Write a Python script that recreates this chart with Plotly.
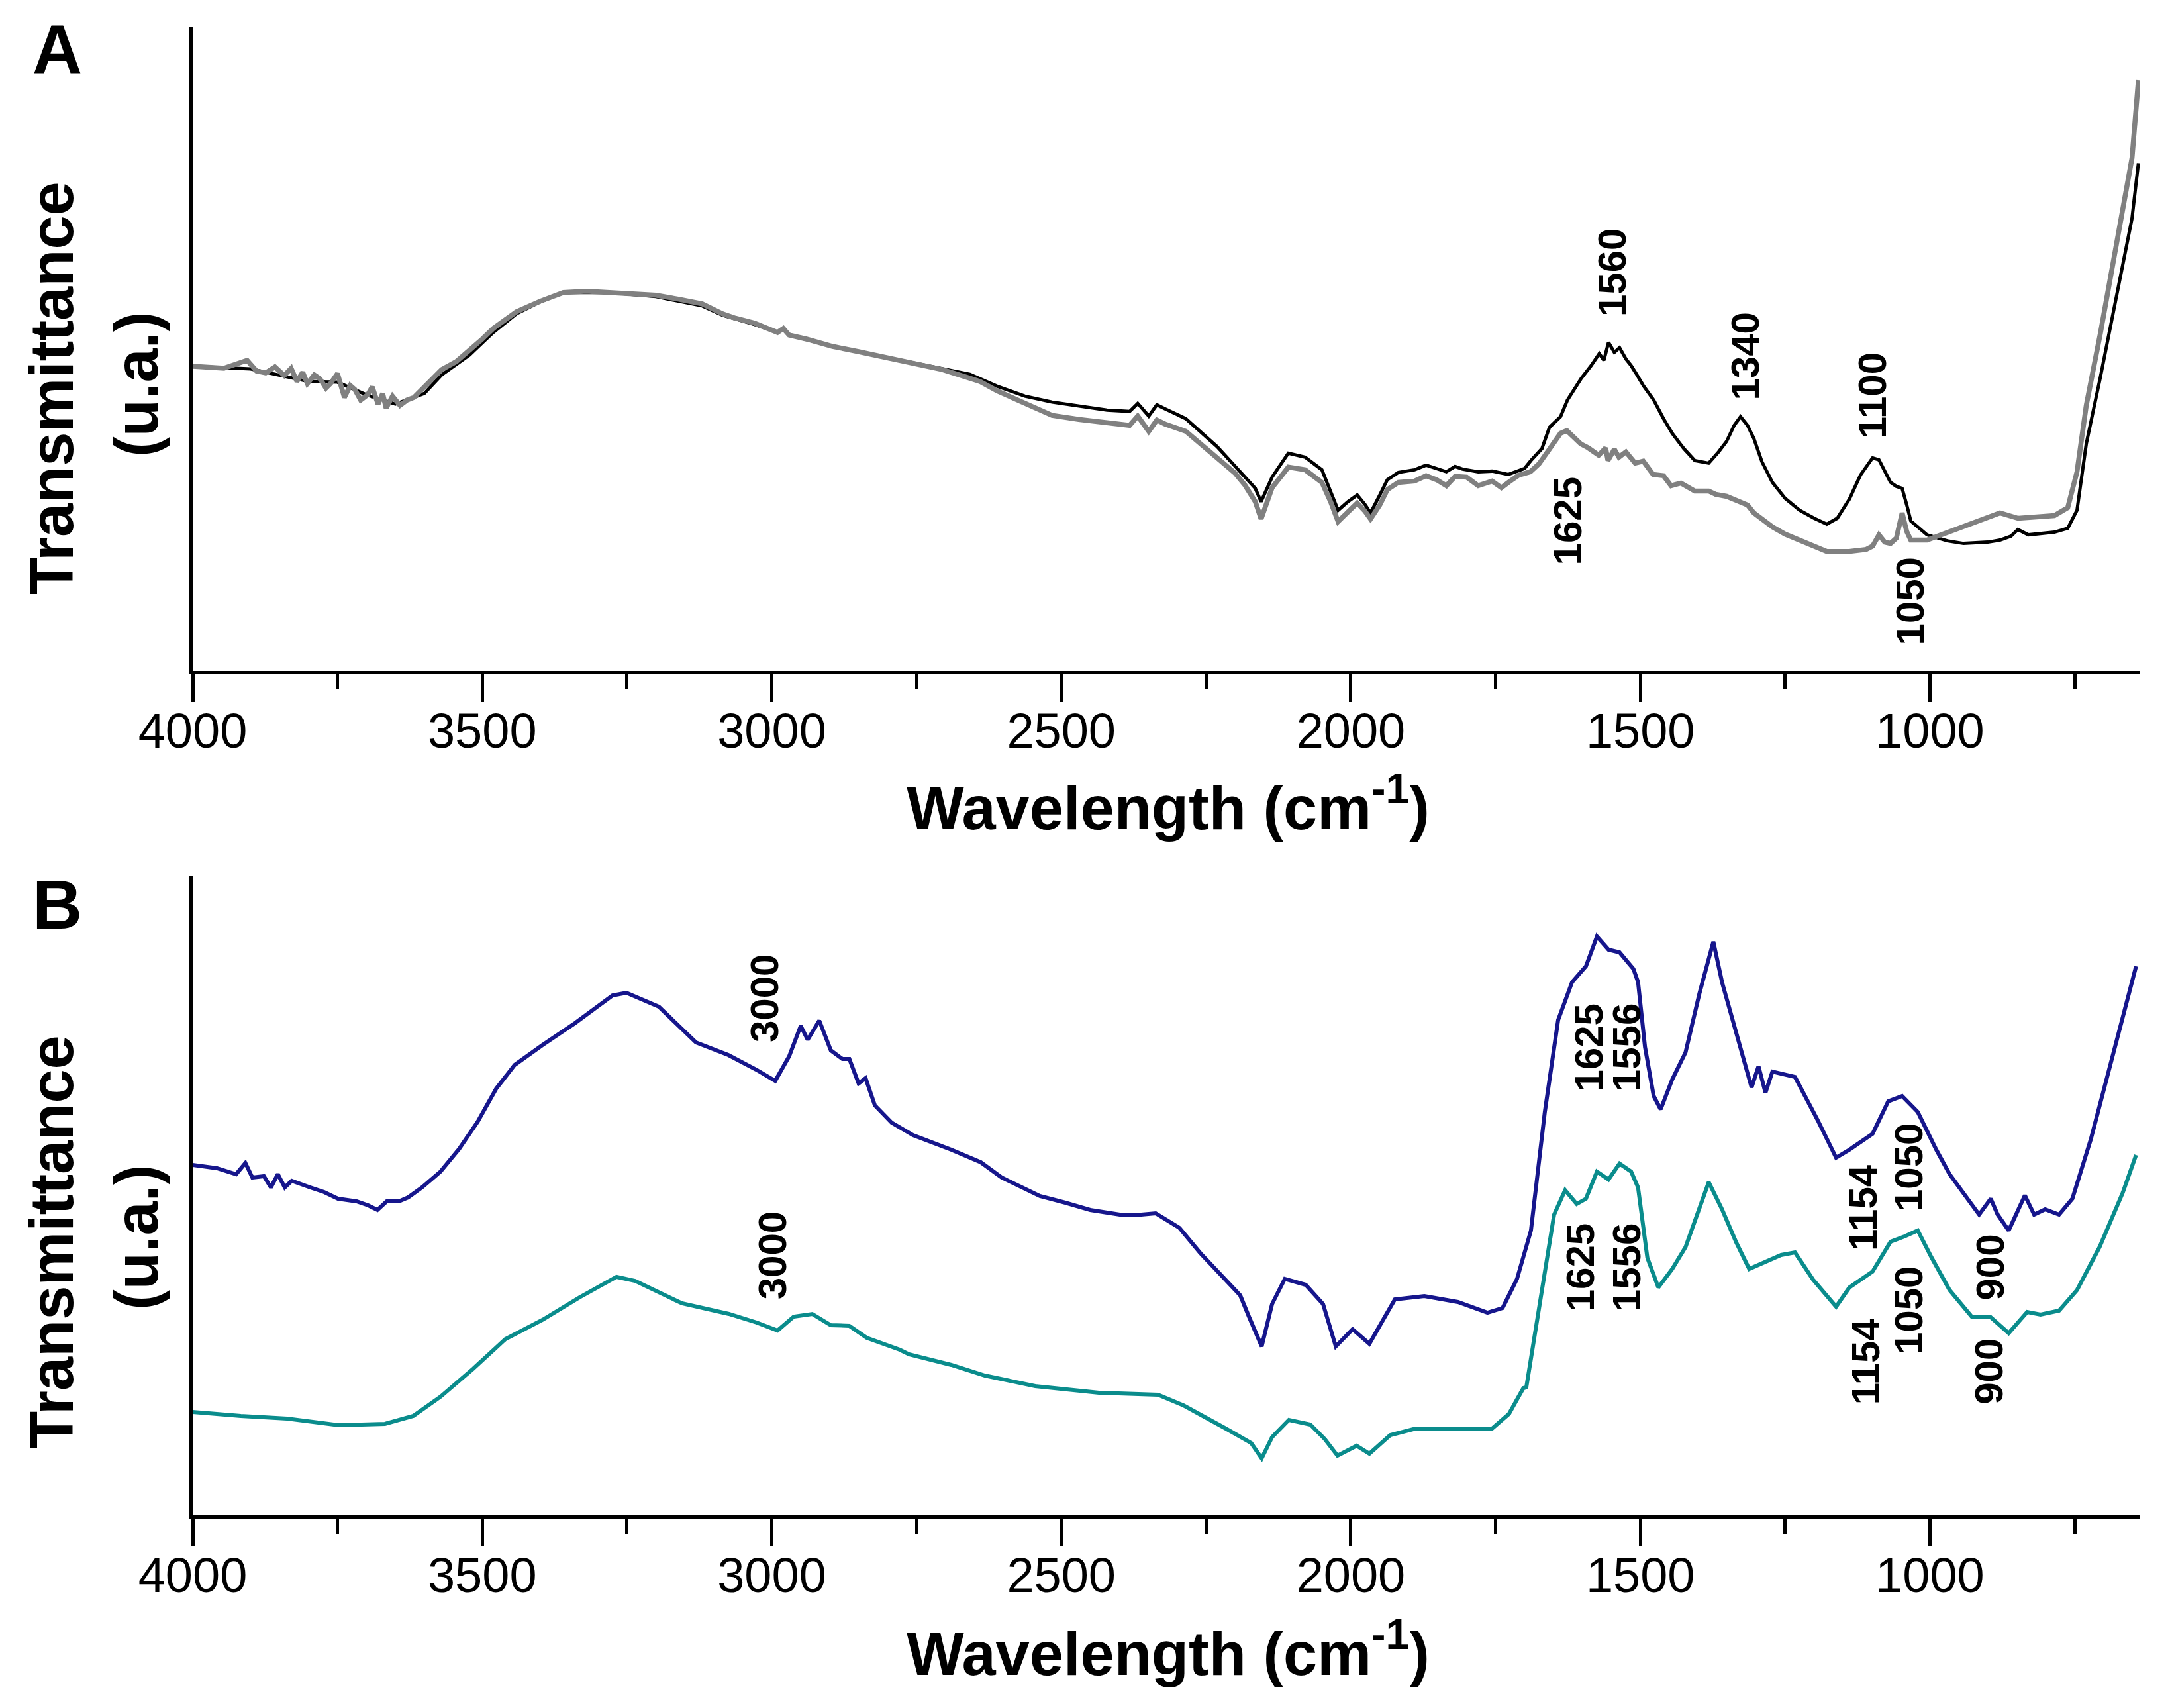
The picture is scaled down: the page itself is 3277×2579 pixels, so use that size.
import plotly.graph_objects as go

# ---------------- Panel A data (wavenumber cm-1, transmittance a.u.) ----------------
a_gray_x = [4000, 3946, 3906, 3890, 3874, 3858, 3842, 3830, 3820, 3810, 3802, 3790, 3780, 3770,
            3762, 3750, 3738, 3728, 3720, 3710, 3698, 3690, 3680, 3672, 3666, 3655, 3642, 3630,
            3618, 3595, 3570, 3545, 3522, 3500, 3481, 3441,
            3400, 3360, 3320, 3280, 3240, 3200, 3160, 3120, 3085, 3065, 3030, 2990, 2980, 2970,
            2940, 2895, 2850, 2800, 2750, 2705, 2658, 2640, 2611, 2563, 2516, 2470, 2421, 2382,
            2368, 2349, 2335, 2321, 2285, 2231, 2200, 2183, 2165, 2155, 2145, 2136, 2108, 2079,
            2050, 2035, 2022, 2005, 1989, 1975, 1966, 1950, 1937, 1918, 1890, 1870, 1852, 1835,
            1820, 1800, 1780, 1756, 1740, 1728, 1710, 1690, 1675, 1658, 1645, 1638, 1627, 1615,
            1603, 1590, 1572, 1560, 1556, 1545, 1537, 1525, 1509, 1495, 1478, 1460, 1447, 1430,
            1406, 1382, 1370, 1351, 1327, 1315, 1304, 1272, 1250, 1225, 1178, 1139, 1110, 1099,
            1088, 1078, 1068, 1058, 1048, 1040, 1033, 1005, 942, 900, 879, 848, 785, 762, 746,
            730, 706, 675, 651, 640]
a_gray_y = [45.9, 45.6, 46.8, 45.2, 44.9, 45.8, 44.5, 45.6, 43.6, 45.0, 43.3, 44.6, 44.0, 42.6,
            43.3, 44.8, 41.2, 43.0, 42.4, 40.8, 41.6, 42.8, 40.2, 41.8, 39.6, 41.4, 40.0, 40.8,
            41.2, 43.2, 45.4, 46.6, 48.3, 50.0, 51.6, 54.1,
            55.7, 57.0, 57.2, 57.0, 56.9, 56.6, 56.0, 55.3, 53.8, 53.2, 52.4, 51.0, 51.6, 50.6,
            50.0, 48.9, 48.1, 47.2, 46.3, 45.4, 44.1, 43.6, 42.2, 40.3, 38.5, 37.9, 37.4, 37.0,
            38.4, 36.1, 37.8, 37.2, 36.1, 32.2, 29.8, 28.0, 25.5, 22.9, 25.5, 27.6, 30.7, 30.3,
            28.4, 25.5, 22.5, 24.0, 25.3, 24.0, 22.9, 25.0, 27.3, 28.4, 28.6, 29.4, 28.8, 27.9,
            29.3, 29.2, 27.9, 28.6, 27.6, 28.4, 29.5, 30.0, 31.2, 33.3, 34.8, 35.8, 36.2, 35.2,
            34.2, 33.6, 32.5, 33.6, 31.7, 33.4, 32.2, 33.0, 31.3, 31.6, 29.6, 29.4, 27.9, 28.3,
            27.1, 27.1, 26.6, 26.3, 25.5, 25.0, 23.8, 21.7, 20.6, 19.7, 18.0, 18.0, 18.3, 18.8,
            20.5, 19.4, 19.2, 20.0, 23.8, 21.0, 19.7, 19.7, 21.7, 23.0, 23.8, 23.0, 23.4, 24.6,
            30.0, 40.0, 50.7, 65.7, 77.3, 89.0]

a_black_x = [4000, 3900, 3800, 3750, 3700, 3650, 3600, 3570, 3522, 3481, 3441, 3400, 3360, 3280,
             3200, 3120, 3085, 3030, 2990, 2980, 2970, 2895, 2800, 2705, 2658, 2611, 2563, 2516,
             2470, 2421, 2382, 2368, 2349, 2335, 2321, 2285, 2231, 2183, 2165, 2155, 2145, 2136,
             2108, 2079, 2050, 2035, 2022, 2005, 1989, 1975, 1966, 1950, 1937, 1918, 1890, 1870,
             1852, 1835, 1820, 1807, 1780, 1756, 1728, 1700, 1689, 1670, 1657, 1638, 1626, 1602,
             1585, 1571, 1563, 1555, 1545, 1536, 1525, 1516, 1508, 1495, 1477, 1460, 1445, 1425,
             1406, 1382, 1365, 1351, 1338, 1327, 1315, 1304, 1290, 1272, 1250, 1225, 1200, 1178,
             1160, 1139, 1120, 1099, 1088, 1068, 1058, 1048, 1040, 1033, 1005, 970, 942, 900, 879,
             860, 848, 830, 785, 762, 746, 730, 706, 675, 651, 640]
a_black_y = [45.9, 45.5, 43.6, 43.5, 41.6, 40.2, 41.8, 44.6, 47.6, 51.0, 53.8, 55.6, 57.0, 57.0,
             56.4, 55.0, 53.6, 52.2, 51.0, 51.6, 50.6, 48.9, 47.2, 45.6, 44.7, 42.9, 41.4, 40.5,
             39.9, 39.3, 39.1, 40.3, 38.4, 40.1, 39.5, 38.0, 33.8, 29.2, 27.5, 25.5, 27.5, 29.2,
             32.8, 32.2, 30.3, 27.0, 24.2, 25.5, 26.5, 25.0, 23.8, 26.5, 28.8, 29.9, 30.3, 31.0,
             30.5, 30.0, 30.8, 30.4, 30.0, 30.1, 29.6, 30.5, 31.7, 33.5, 36.7, 38.3, 40.8, 44.1,
             46.0, 47.8, 46.8, 49.5, 48.0, 48.7, 47.0, 46.0, 44.9, 43.0, 40.8, 38.0, 35.8, 33.5,
             31.7, 31.3, 33.0, 34.6, 37.0, 38.3, 37.0, 35.0, 31.5, 28.4, 26.0, 24.2, 23.0, 22.1,
             23.0, 25.9, 29.5, 32.1, 31.8, 28.4, 27.8, 27.5, 25.0, 22.6, 20.5, 19.6, 19.2, 19.4,
             19.7, 20.3, 21.3, 20.5, 20.9, 21.5, 24.2, 34.2, 44.1, 57.4, 68.2, 76.5]

# ---------------- Panel B data ----------------
b_navy_x = [4000, 3958, 3925, 3909, 3897, 3877, 3865, 3853, 3841, 3829, 3797, 3773, 3749, 3717,
            3697, 3681, 3665, 3644, 3628, 3604, 3572, 3540, 3508, 3476, 3444, 3396, 3340, 3275,
            3251, 3195, 3131, 3075, 3027, 2994, 2970, 2950, 2938, 2918, 2898, 2878, 2866, 2850,
            2838, 2822, 2793, 2756, 2690, 2639, 2603, 2537, 2493, 2450, 2399, 2362, 2337, 2296,
            2260, 2216, 2191, 2176, 2154, 2136, 2114, 2078, 2048, 2026, 1997, 1968, 1924, 1873,
            1815, 1764, 1738, 1713, 1694, 1689, 1665, 1642, 1618, 1594, 1575, 1555, 1536, 1512,
            1504, 1492, 1477, 1465, 1445, 1422, 1398, 1374, 1359, 1335, 1308, 1296, 1284, 1272,
            1233, 1194, 1162, 1139, 1099, 1072, 1048, 1021, 989, 966, 942, 915, 895, 883, 864,
            836, 820, 801, 777, 754, 722, 683, 644]
b_navy_y = [52.9, 52.4, 51.5, 53.2, 51.0, 51.2, 49.5, 51.5, 49.5, 50.5, 49.5, 48.8, 47.8, 47.4,
            46.8, 46.1, 47.4, 47.4, 48.0, 49.5, 51.9, 55.3, 59.4, 64.4, 68.0, 71.0, 74.3, 78.5,
            78.9, 76.8, 71.4, 69.5, 67.3, 65.6, 69.3, 73.9, 71.8, 74.7, 70.2, 68.9, 68.9, 65.2,
            66.0, 61.9, 59.3, 57.4, 55.2, 53.3, 51.0, 48.2, 47.2, 46.1, 45.4, 45.4, 45.6, 43.4,
            39.6, 35.4, 33.2, 30.0, 25.5, 31.9, 35.7, 34.8, 31.9, 25.5, 28.1, 25.9, 32.6, 33.1,
            32.2, 30.6, 31.3, 35.7, 41.5, 43.0, 60.9, 74.8, 80.5, 82.9, 87.4, 85.4, 85.0, 82.5,
            80.5, 70.7, 63.3, 61.3, 65.8, 69.9, 78.8, 86.6, 80.5, 73.1, 64.6, 67.8, 63.8, 67.0,
            66.2, 59.7, 54.0, 55.2, 57.6, 62.5, 63.3, 60.9, 55.2, 51.5, 48.7, 45.4, 47.8, 45.4,
            43.0, 48.3, 45.4, 46.2, 45.4, 47.8, 56.8, 69.9, 82.9]

b_teal_x = [4000, 3917, 3837, 3748, 3668, 3619, 3572, 3516, 3460, 3396, 3332, 3268, 3236, 3155,
            3074, 3026, 2990, 2962, 2930, 2898, 2866, 2836, 2779, 2763, 2690, 2632, 2545, 2435,
            2333, 2289, 2216, 2172, 2154, 2136, 2107, 2070, 2045, 2023, 1990, 1968, 1932, 1888,
            1815, 1756, 1727, 1702, 1697, 1673, 1649, 1630, 1610, 1594, 1575, 1555, 1536, 1516,
            1504, 1488, 1469, 1445, 1422, 1402, 1382, 1359, 1335, 1312, 1288, 1257, 1233, 1202,
            1162, 1139, 1099, 1068, 1044, 1021, 997, 966, 927, 895, 864, 832, 809, 777, 746,
            707, 667, 644]
b_teal_y = [15.6, 15.0, 14.6, 13.6, 13.8, 15.0, 17.9, 22.1, 26.6, 29.5, 32.9, 36.0, 35.4, 32.0,
            30.4, 29.1, 27.9, 30.0, 30.4, 28.7, 28.6, 26.8, 25.0, 24.3, 22.7, 21.1, 19.5, 18.5,
            18.2, 16.6, 13.1, 10.9, 8.6, 11.8, 14.4, 13.7, 11.5, 9.0, 10.5, 9.3, 12.1, 13.1,
            13.1, 13.1, 15.3, 19.2, 19.3, 32.3, 45.4, 49.1, 47.0, 47.8, 51.9, 50.7, 53.1, 51.9,
            49.5, 38.9, 34.4, 37.2, 40.5, 45.4, 50.3, 46.2, 41.3, 37.2, 38.1, 39.3, 39.7, 35.6,
            31.5, 34.4, 36.8, 41.3, 42.1, 43.0, 38.9, 34.0, 29.9, 29.9, 27.5, 30.7, 30.3, 30.9,
            34.0, 40.5, 48.7, 54.4]

# ---------------- peak labels ----------------
a_lbl_text = ["1560", "1340", "1100", "1625", "1050"]
a_lbl_x = [1549, 1319, 1100, 1625, 1034]
a_lbl_y = [60.0, 47.4, 41.5, 22.6, 10.5]

b_lbl_text = ["3000", "3000", "1625", "1556", "1625", "1556", "1154", "1050", "1154", "1050", "900", "900"]
b_lbl_x = [3013, 2999, 1590, 1524, 1604, 1524, 1116, 1037, 1111, 1037, 897, 899]
b_lbl_y = [78.0, 39.2, 70.6, 70.6, 37.4, 37.4, 46.4, 52.5, 23.2, 30.9, 37.4, 21.7]

x_ticks = [4000, 3500, 3000, 2500, 2000, 1500, 1000]
x_tick_text = ["4000", "3500", "3000", "2500", "2000", "1500", "1000"]

W, H = 3277, 2579
FONT = "Liberation Sans, Arial, sans-serif"

fig = go.Figure()
fig.add_trace(go.Scatter(x=a_black_x, y=a_black_y, mode="lines",
                         line=dict(color="#000000", width=5), xaxis="x", yaxis="y", showlegend=False))
fig.add_trace(go.Scatter(x=a_gray_x, y=a_gray_y, mode="lines",
                         line=dict(color="#808080", width=7.5), xaxis="x", yaxis="y", showlegend=False))
fig.add_trace(go.Scatter(x=b_navy_x, y=b_navy_y, mode="lines",
                         line=dict(color="#16168c", width=6), xaxis="x2", yaxis="y2", showlegend=False))
fig.add_trace(go.Scatter(x=b_teal_x, y=b_teal_y, mode="lines",
                         line=dict(color="#0a8c8c", width=6), xaxis="x2", yaxis="y2", showlegend=False))

xdom = [283 / W, 3223 / W]
xaxis_common = dict(
    range=[4000, 638], autorange=False, domain=xdom,
    showline=True, linecolor="black", linewidth=5,
    ticks="outside", ticklen=42, tickwidth=5, tickcolor="black",
    tickvals=x_ticks, ticktext=x_tick_text,
    tickfont=dict(family=FONT, size=74, color="black"),
    ticklabelstandoff=-20,
    minor=dict(ticks="outside", ticklen=23, tickwidth=5, tickcolor="black", dtick=250, tick0=0),
    showgrid=False, zeroline=False,
)
yaxis_common = dict(
    showline=True, linecolor="black", linewidth=5, ticks="", showticklabels=False,
    showgrid=False, zeroline=False, autorange=False,
)

fig.update_layout(
    width=W, height=H,
    margin=dict(l=0, r=0, t=0, b=0, autoexpand=False),
    paper_bgcolor="white", plot_bgcolor="white",
    xaxis=dict(**xaxis_common, anchor="y"),
    yaxis=dict(**yaxis_common, range=[0, 97], domain=[1 - 1005 / H, 1 - 33 / H], anchor="x"),
    xaxis2=dict(**xaxis_common, anchor="y2"),
    yaxis2=dict(**yaxis_common, range=[0, 96.5], domain=[1 - 2280 / H, 1 - 1315 / H], anchor="x2"),
)

ann = []
for t, x, y in zip(a_lbl_text, a_lbl_x, a_lbl_y):
    ann.append(dict(text=f"<b>{t}</b>", x=x, y=y, xref="x", yref="y", showarrow=False, textangle=-90,
                    font=dict(family=FONT, size=60, color="black"), xanchor="center", yanchor="middle"))
for t, x, y in zip(b_lbl_text, b_lbl_x, b_lbl_y):
    ann.append(dict(text=f"<b>{t}</b>", x=x, y=y, xref="x2", yref="y2", showarrow=False, textangle=-90,
                    font=dict(family=FONT, size=60, color="black"), xanchor="center", yanchor="middle"))

def paper(t, px, py, size, angle=0, bold=True):
    return dict(text=f"<b>{t}</b>" if bold else t, x=px / W, y=1 - py / H, xref="paper", yref="paper",
                showarrow=False, textangle=angle, xanchor="center", yanchor="middle",
                font=dict(family=FONT, size=size, color="black"))

ann += [
    paper("A", 78, 66, 104),
    paper("B", 78, 1358, 104),
    paper("Transmittance", 70, 578, 92, -90),
    paper("(u.a.)", 198, 572, 92, -90),
    paper("Transmittance", 70, 1867, 92, -90),
    paper("(u.a.)", 198, 1860, 92, -90),
    paper("Wavelength (cm<sup>-1</sup>)", 1756, 1205, 92),
    paper("Wavelength (cm<sup>-1</sup>)", 1756, 2482, 92),
]
fig.update_layout(annotations=ann)

fig.write_html("out.html")
